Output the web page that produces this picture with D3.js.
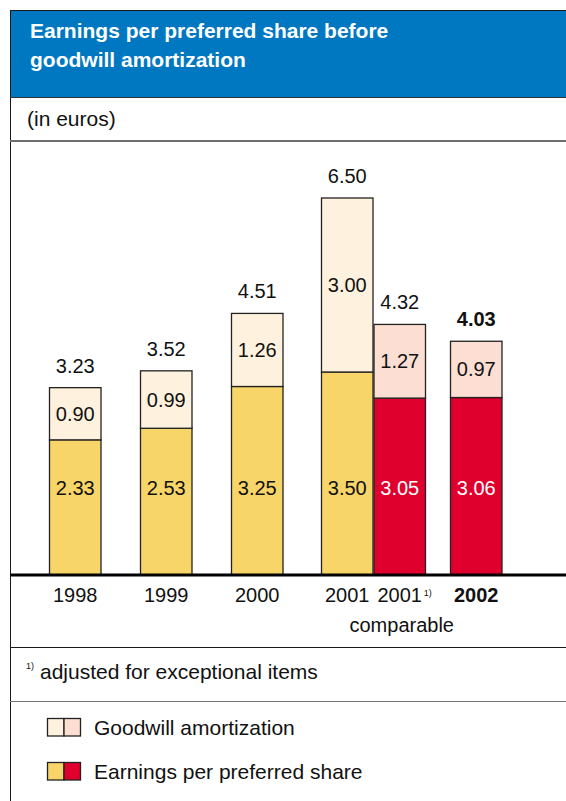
<!DOCTYPE html>
<html>
<head>
<meta charset="utf-8">
<script src="https://cdn.jsdelivr.net/npm/d3@7"></script>
<style>
  html, body { margin: 0; padding: 0; background: #fff; }
  svg { display: block; font-family: "Liberation Sans", Arial, Helvetica, sans-serif; }
</style>
</head>
<body>
<svg id="chart" width="566" height="801"></svg>
<script>
// Bar data: one stacked bar per period
const categories = ["1998", "1999", "2000", "2001", "2001c", "2002"];
const earnings   = [2.33, 2.53, 3.25, 3.50, 3.05, 3.06];
const goodwill   = [0.90, 0.99, 1.26, 3.00, 1.27, 0.97];
const totals     = [3.23, 3.52, 4.51, 6.50, 4.32, 4.03];
const xLabels    = ["1998", "1999", "2000", "2001", "2001", "2002"];
const adjusted   = [false, false, false, false, true, true];

const colors = {
  blue: "#0078c1",
  earn: "#f8d568",
  good: "#fef2de",
  earnAdj: "#e0002d",
  goodAdj: "#fcded2"
};

const svg = d3.select("#chart");
const W = 566;
const leftEdge = 10.5;
const textSize = 21;
const numSize = 20;

// Header band
svg.append("rect").attr("x", 10).attr("y", 10).attr("width", W - 10).attr("height", 87)
  .attr("fill", colors.blue);
svg.append("line").attr("x1", 10).attr("x2", W).attr("y1", 10.5).attr("y2", 10.5)
  .attr("stroke", "#1a1a1a").attr("stroke-width", 1);
svg.append("text").attr("x", 30).attr("y", 38).attr("fill", "#fff")
  .attr("font-size", textSize).attr("font-weight", "bold").text("Earnings per preferred share before");
svg.append("text").attr("x", 30).attr("y", 67).attr("fill", "#fff")
  .attr("font-size", textSize).attr("font-weight", "bold").text("goodwill amortization");

// Frame: left border and row separators
svg.append("line").attr("x1", leftEdge).attr("x2", leftEdge).attr("y1", 10).attr("y2", 801)
  .attr("stroke", "#1a1a1a").attr("stroke-width", 1);
svg.append("line").attr("x1", 10).attr("x2", W).attr("y1", 97.5).attr("y2", 97.5)
  .attr("stroke", "#333").attr("stroke-width", 1);
svg.append("text").attr("x", 27).attr("y", 126).attr("fill", "#111")
  .attr("font-size", textSize).text("(in euros)");
svg.append("line").attr("x1", 10).attr("x2", W).attr("y1", 141).attr("y2", 141)
  .attr("stroke", "#6e6e6e").attr("stroke-width", 2);

// Scales
const baseY = 575;
const x = d3.scaleOrdinal().domain(categories).range([49, 140, 231, 321, 373.5, 450]);
const barW = 52.5;
const y = d3.scaleLinear().domain([0, 6.5]).range([baseY, 198]);

const rows = categories.map((c, i) => ({
  cat: c, e: earnings[i], g: goodwill[i], t: totals[i], adj: adjusted[i], bold: c === "2002"
}));

const fmt = d3.format(".2f");
const bars = svg.append("g");
rows.forEach(d => {
  const x0 = x(d.cat);
  // earnings segment
  bars.append("rect").attr("x", x0 + 0.5).attr("y", y(d.e)).attr("width", barW - 1)
    .attr("height", baseY - y(d.e))
    .attr("fill", d.adj ? colors.earnAdj : colors.earn)
    .attr("stroke", "#222").attr("stroke-width", 1.3);
  // goodwill segment
  bars.append("rect").attr("x", x0 + 0.5).attr("y", y(d.e + d.g)).attr("width", barW - 1)
    .attr("height", y(d.e) - y(d.e + d.g))
    .attr("fill", d.adj ? colors.goodAdj : colors.good)
    .attr("stroke", "#222").attr("stroke-width", 1.3);
  // earnings labels share one row across all bars
  bars.append("text").attr("x", x0 + barW / 2).attr("y", y(1.5) + 7)
    .attr("text-anchor", "middle").attr("font-size", numSize)
    .attr("fill", d.adj ? "#fff" : "#111").text(fmt(d.e));
  bars.append("text").attr("x", x0 + barW / 2).attr("y", (y(d.e + d.g) + y(d.e)) / 2 + 7)
    .attr("text-anchor", "middle").attr("font-size", numSize)
    .attr("fill", "#111").text(fmt(d.g));
  // total label
  bars.append("text").attr("x", x0 + barW / 2).attr("y", y(d.t) - 15)
    .attr("text-anchor", "middle").attr("font-size", numSize)
    .attr("font-weight", d.bold ? "bold" : "normal")
    .attr("fill", "#111").text(fmt(d.t));
});

// Baseline
svg.append("line").attr("x1", 10).attr("x2", W).attr("y1", baseY).attr("y2", baseY)
  .attr("stroke", "#000").attr("stroke-width", 3);

// Category labels
rows.forEach((d, i) => {
  svg.append("text").attr("x", x(d.cat) + barW / 2).attr("y", 602)
    .attr("text-anchor", "middle").attr("font-size", numSize)
    .attr("font-weight", d.bold ? "bold" : "normal").attr("fill", "#111")
    .text(xLabels[i]);
  if (d.cat === "2001c") {
    svg.append("text").attr("x", x(d.cat) + barW / 2 + 24).attr("y", 596)
      .attr("font-size", 9).attr("fill", "#111").text("1)");
  }
});
svg.append("text").attr("x", x("2001c") + barW / 2 + 2).attr("y", 632)
  .attr("text-anchor", "middle").attr("font-size", numSize).attr("fill", "#111").text("comparable");

// Footnote row
svg.append("line").attr("x1", 10).attr("x2", W).attr("y1", 647.5).attr("y2", 647.5)
  .attr("stroke", "#1a1a1a").attr("stroke-width", 1);
svg.append("text").attr("x", 26).attr("y", 669).attr("font-size", 9).attr("fill", "#111").text("1)");
svg.append("text").attr("x", 40).attr("y", 679).attr("font-size", textSize).attr("fill", "#111")
  .text("adjusted for exceptional items");
svg.append("line").attr("x1", 10).attr("x2", W).attr("y1", 701.5).attr("y2", 701.5)
  .attr("stroke", "#777").attr("stroke-width", 1);

// Legend
const legend = [
  { label: "Goodwill amortization", fills: [colors.good, colors.goodAdj], y: 718 },
  { label: "Earnings per preferred share", fills: [colors.earn, colors.earnAdj], y: 762 }
];
legend.forEach(l => {
  l.fills.forEach((f, j) => {
    svg.append("rect").attr("x", 47.5 + j * 16.5).attr("y", l.y + 0.5).attr("width", 16.5).attr("height", 17.5)
      .attr("fill", f).attr("stroke", "#222").attr("stroke-width", 1.3);
  });
  svg.append("text").attr("x", 94).attr("y", l.y + 17).attr("font-size", textSize).attr("fill", "#111")
    .text(l.label);
});
</script>
</body>
</html>
